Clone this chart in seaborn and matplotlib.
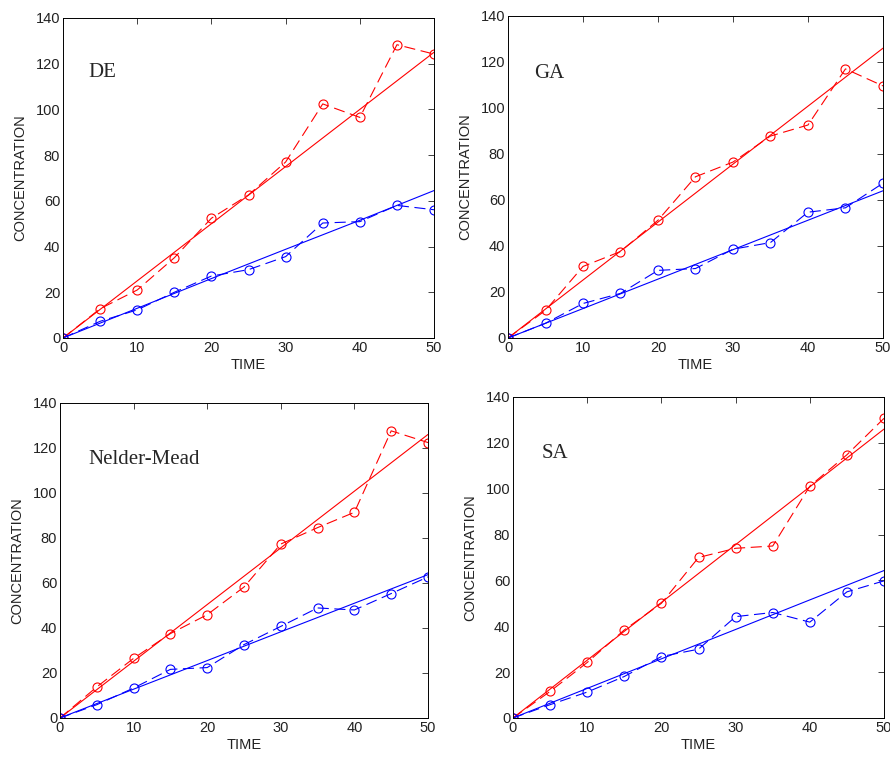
import numpy as np
import pandas as pd
import matplotlib
matplotlib.use("Agg")
import matplotlib.pyplot as plt
import seaborn as sns

# sample times and fit-line times
t = [0, 5, 10, 15, 20, 25, 30, 35, 40, 45, 50]
t_fit = [0, 10, 20, 30, 40, 50]

methods = ["DE", "GA", "Nelder-Mead", "SA"]

# measured concentrations (dashed, circles)
de_red = [0, 12.8, 21, 35.1, 52.4, 62.6, 77, 102.4, 96.5, 128.3, 124.2]
de_blue = [0, 7.3, 12.3, 20, 27.1, 29.9, 35.6, 50.3, 50.9, 58, 56.1]
ga_red = [0, 12, 31.1, 37.6, 51.2, 70.1, 76.5, 87.8, 92.6, 117, 109.6]
ga_blue = [0, 6.4, 15, 19.4, 29.4, 30.2, 38.6, 41.5, 54.7, 56.6, 67.3]
nm_red = [0, 13.8, 26.5, 37.5, 45.9, 58.2, 77.3, 84.6, 91.4, 127.6, 122.4]
nm_blue = [0, 5.9, 13.3, 21.6, 22.4, 32.6, 40.7, 48.9, 48, 55.3, 62.7]
sa_red = [0, 11.6, 24.2, 38.4, 50, 70, 74, 75, 101.1, 114.8, 130.7]
sa_blue = [0, 5.8, 11.3, 18.1, 26.8, 30, 44.2, 46, 41.8, 55, 59.8]

# model fits (solid)
de_red_fit = [0, 25, 50, 75, 100, 125]
de_blue_fit = [0, 13, 26, 38.8, 51.5, 64.5]
ga_red_fit = [0, 25.2, 50.4, 75.6, 100.8, 126]
ga_blue_fit = [0, 12.8, 25.6, 38.4, 51.2, 64]
nm_red_fit = [0, 25.2, 50.4, 75.6, 100.8, 126]
nm_blue_fit = [0, 12.8, 25.5, 38.3, 51, 63.7]
sa_red_fit = [0, 25.2, 50.4, 75.6, 100.8, 126]
sa_blue_fit = [0, 12.9, 25.8, 38.6, 51.5, 64.3]

measured = [(de_red, de_blue), (ga_red, ga_blue), (nm_red, nm_blue), (sa_red, sa_blue)]
fits = [(de_red_fit, de_blue_fit), (ga_red_fit, ga_blue_fit),
        (nm_red_fit, nm_blue_fit), (sa_red_fit, sa_blue_fit)]

# axes boxes in figure fractions (left, bottom, width, height)
boxes = [
    [0.0708, 0.5541, 0.4169, 0.4222],
    [0.5708, 0.5541, 0.4213, 0.4248],
    [0.0674, 0.0528, 0.4135, 0.4156],
    [0.5764, 0.0528, 0.4169, 0.4235],
]
label_pos = [(3.4, 116), (3.5, 115), (3.8, 115), (3.8, 115.5)]

sns.set_style("white")
plt.rcParams['font.family'] = ['Liberation Sans', 'DejaVu Sans']

fig = plt.figure(figsize=(8.9, 7.58), dpi=100)

for i, name in enumerate(methods):
    ax = fig.add_axes(boxes[i])
    red, blue = measured[i]
    red_fit, blue_fit = fits[i]
    for y, yf, c in [(red, red_fit, "#ff0000"), (blue, blue_fit, "#0000ff")]:
        sns.lineplot(x=t_fit, y=yf, ax=ax, color=c, linewidth=0.8)
        sns.lineplot(x=t, y=y, ax=ax, color=c, linewidth=0.8, linestyle=(0, (10, 5)),
                     marker="o", markersize=6.5, markerfacecolor="none",
                     markeredgecolor=c, markeredgewidth=0.8)
    ax.set_xlim(0, 50)
    ax.set_ylim(0, 140)
    ax.set_xticks([0, 10, 20, 30, 40, 50])
    ax.set_yticks([0, 20, 40, 60, 80, 100, 120, 140])
    ax.tick_params(direction="in", length=4, width=0.6, top=True, right=True,
                   labelsize=10.5, pad=2, colors="#222222")
    for s in ax.spines.values():
        s.set_color("black")
        s.set_linewidth(0.7)
    ax.set_xlabel("TIME", fontsize=10.5, labelpad=2, color="#222222")
    ax.set_ylabel("CONCENTRATION", fontsize=10.5, labelpad=6, color="#222222")
    ax.text(label_pos[i][0], label_pos[i][1], name, fontsize=15,
            family="Liberation Serif", va="center", ha="left")

plt.savefig("out.png", dpi=100)
